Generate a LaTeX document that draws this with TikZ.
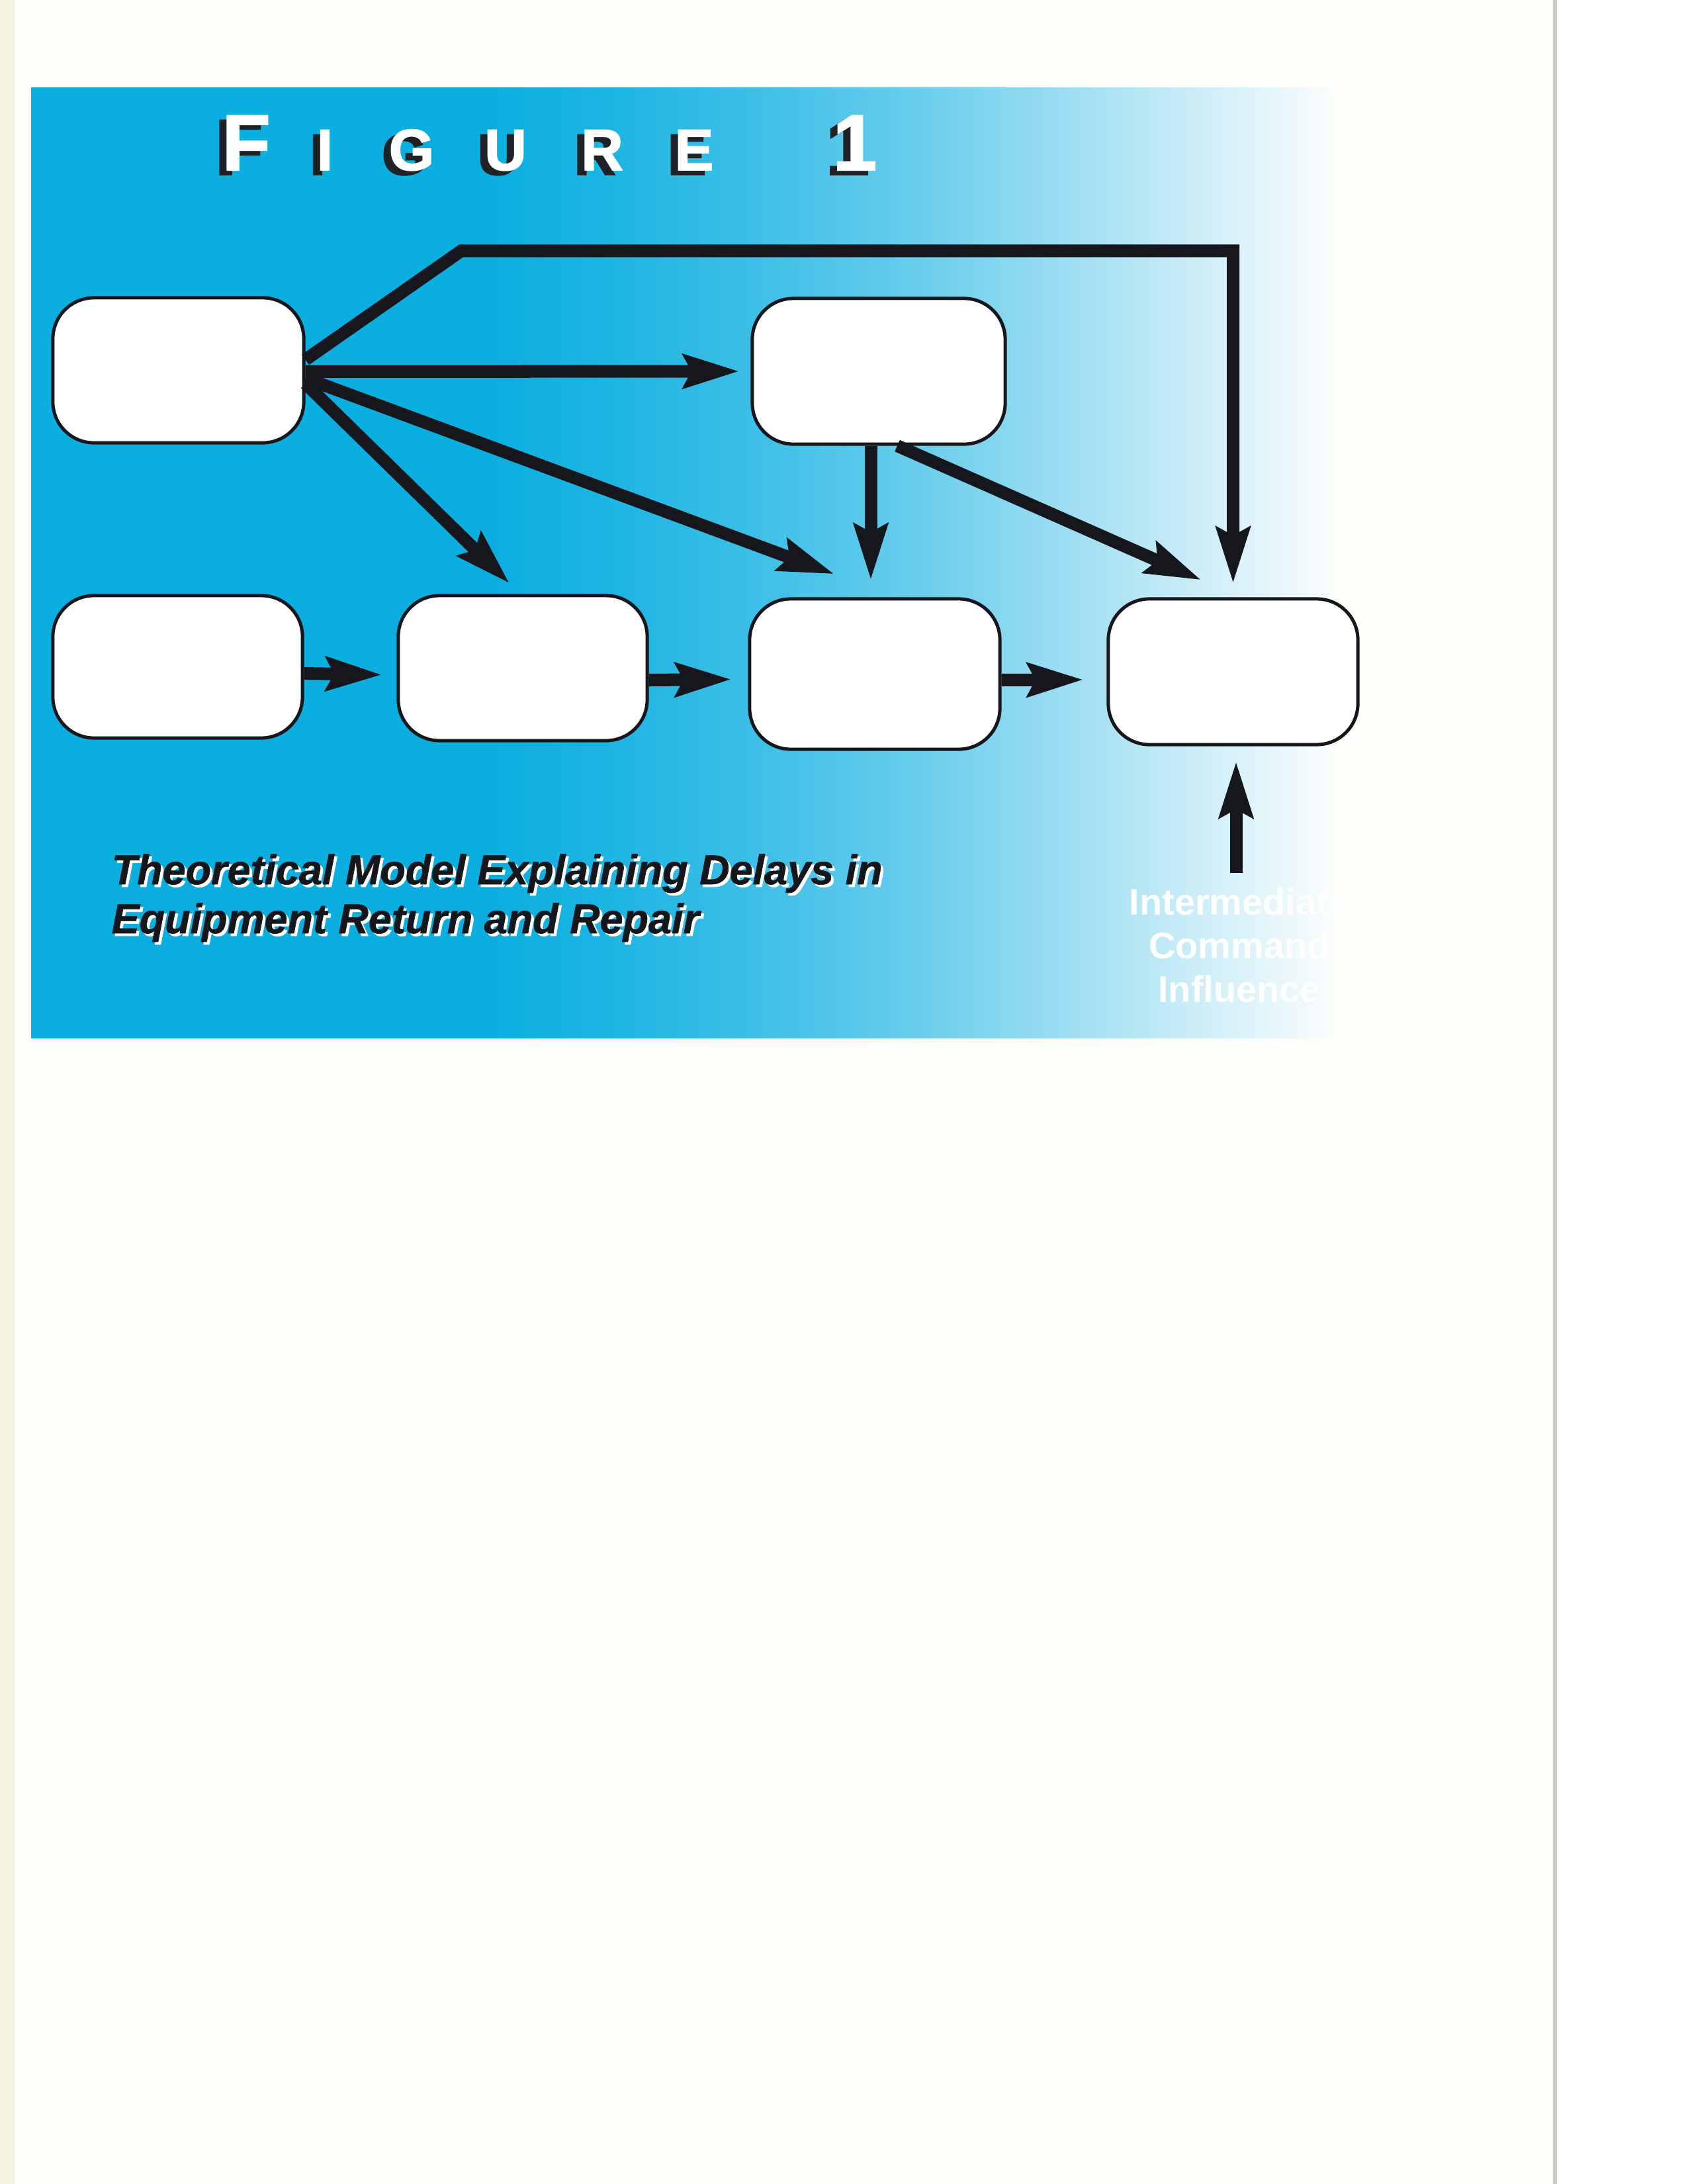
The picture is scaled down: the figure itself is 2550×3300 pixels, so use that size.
\documentclass[tikz,border=0pt]{standalone}
\usepackage{fontspec}
\setmainfont{Liberation Sans}
\newfontfamily\figfont{Liberation Sans}[BoldFeatures={FakeBold=2}]
\newfontfamily\capfont{Liberation Sans}[BoldItalicFeatures={FakeBold=1}]
\usetikzlibrary{arrows.meta,calc}
\definecolor{paper}{HTML}{FDFDFA}
\definecolor{cream}{HTML}{F6F3E2}
\definecolor{edgegrey}{HTML}{C9C9C6}
\definecolor{ink}{HTML}{15171C}
\definecolor{shadowc}{HTML}{1C2228}
\definecolor{cyA}{HTML}{0AAEDF}
\definecolor{cyB}{HTML}{20B6E3}
\definecolor{cyC}{HTML}{40C0E7}
\definecolor{cyD}{HTML}{65CCEC}
\definecolor{cyE}{HTML}{95DBF1}
\definecolor{cyF}{HTML}{C8ECF7}
\definecolor{cyG}{HTML}{E8F7FB}
\definecolor{cyH}{HTML}{F8FCFD}
\pgfdeclarehorizontalshading{panelshade}{100bp}{color(0bp)=(cyA); color(25bp)=(cyA); color(42.6bp)=(cyA); color(47.9bp)=(cyB); color(53.3bp)=(cyC); color(58.7bp)=(cyD); color(64bp)=(cyE); color(69.4bp)=(cyF); color(73.1bp)=(cyG); color(75bp)=(cyH); color(100bp)=(cyH)}
\tikzset{
  boxst/.style={draw=ink, line width=0.05cm, fill=white, rounded corners=0.62cm, inner sep=0pt},
  arr/.style={draw=ink, line width=0.19cm, line join=miter, -{Stealth[length=0.84cm,width=0.5cm,inset=0.12cm]}},
  tbig/.style={font=\figfont\bfseries\fontsize{34pt}{34pt}\selectfont, inner sep=0pt, anchor=base},
  tsml/.style={font=\figfont\bfseries\fontsize{25pt}{25pt}\selectfont, inner sep=0pt, anchor=base},
  capst/.style={font=\capfont\bfseries\itshape\fontsize{17.9pt}{21pt}\selectfont, inner sep=0pt, anchor=base west},
  lblst/.style={font=\bfseries\fontsize{15.9pt}{18.8pt}\selectfont, text=white, align=center, inner sep=0pt, anchor=north}
}
\newcommand\titleletter[4]{%
  \node[#3, text=shadowc] (#1s) at ({#2-11},264) {#4};
  \node[#3, text=white] (#1) at (#2,257) {#4};}
\begin{document}
\begin{tikzpicture}[x=0.01cm,y=-0.01cm]
\useasboundingbox (0,0) rectangle (2550,3300);
% page
\fill[paper] (0,0) rectangle (2550,3300);
\fill[cream] (0,0) rectangle (22,3300);
\fill[white] (2352,0) rectangle (2550,3300);
\draw[edgegrey, line width=0.06cm] (2350,0) -- (2350,3300);
% panel
\shade[shading=panelshade] (47,133) rectangle (2010,1568);
% title
\titleletter{tF}{372}{tbig}{F}
\titleletter{tI}{491}{tsml}{I}
\titleletter{tG}{622}{tsml}{G}
\titleletter{tU}{764}{tsml}{U}
\titleletter{tR}{910}{tsml}{R}
\titleletter{tE}{1049}{tsml}{E}
\titleletter{tOne}{1292}{tbig}{1}
% boxes
\node[boxst, minimum width=3.79cm, minimum height=2.19cm] (A) at (269.5,559.5) {};
\node[boxst, minimum width=3.82cm, minimum height=2.20cm] (B) at (1328,561) {};
\node[boxst, minimum width=3.77cm, minimum height=2.15cm] (C) at (268.5,1007.5) {};
\node[boxst, minimum width=3.76cm, minimum height=2.19cm] (D) at (790,1009.5) {};
\node[boxst, minimum width=3.78cm, minimum height=2.27cm] (E) at (1322,1018.5) {};
\node[boxst, minimum width=3.77cm, minimum height=2.20cm] (F) at (1863.5,1015) {};
% side label
\node[lblst] (lbl) at (1873,1341) {Intermediate\\Command\\Influence};
% connectors
\coordinate (bend) at (697,379);
\draw[arr] ($(A.east)+(0,-16)$) -- (bend) -- (F.north |- bend) -- ($(F.north)+(0,-21)$);
\draw[arr] ($(A.east)+(0,2)$) -- ($(B.west)+(-17,0)$);
\draw[arr] ($(A.east)+(0,20)$) -- ($(D.north)+(-20,-16)$);
\draw[arr] ($(A.east)+(0,12)$) -- ($(E.north)+(-61,-35)$);
\draw[arr] ($(B.south)+(-12,0)$) -- ($(E.north)+(-6,-26)$);
\draw[arr] ($(B.south)+(28,0)$) -- ($(F.north)+(-48,-26)$);
\draw[arr] ($(C.east)+(0,10)$) -- ($(D.west)+(-22,10)$);
\draw[arr] ($(D.east)+(0,18)$) -- ($(E.west)+(-25,8)$);
\draw[arr] ($(E.east)+(0,9)$) -- ($(F.west)+(-35,12)$);
\draw[arr] ($(lbl.north)+(-5,-22)$) -- ($(F.south)+(4.5,23)$);
% caption
\node[capst, text=white] (cap1s) at (172,1340) {Theoretical Model Explaining Delays in};
\node[capst, text=ink] (cap1) at (168,1336) {Theoretical Model Explaining Delays in};
\node[capst, text=white] (cap2s) at (172,1414) {Equipment Return and Repair};
\node[capst, text=ink] (cap2) at (168,1410) {Equipment Return and Repair};
\end{tikzpicture}
\end{document}
